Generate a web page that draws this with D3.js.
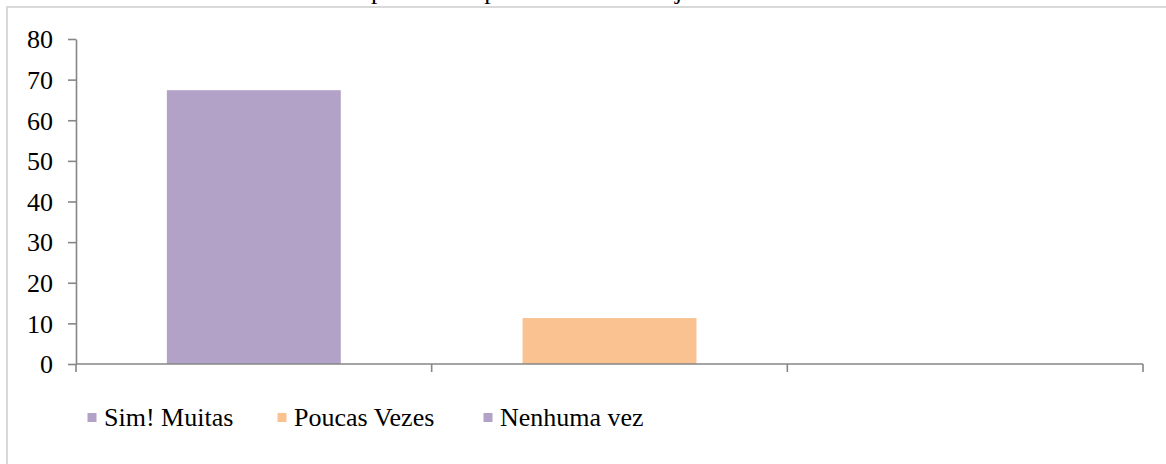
<!DOCTYPE html>
<html>
<head>
<meta charset="utf-8">
<script src="https://cdn.jsdelivr.net/npm/d3@7"></script>
<style>
  html, body { margin: 0; padding: 0; background: #fff; }
  svg { display: block; }
  svg text { font-family: "Liberation Serif", "Times New Roman", serif !important; fill: #000; }
</style>
</head>
<body>
<svg id="chart" width="1166" height="464"></svg>
<script>
// Survey answers and the share of respondents for each one
const categories = ["Sim! Muitas", "Poucas Vezes", "Nenhuma vez"];
const values = [67.4, 11.3, 0];
const colors = ["#b3a2c7", "#fac191", "#b3a2c7"];
const yTicks = [0, 10, 20, 30, 40, 50, 60, 70, 80];
const title = "Você praticou esportes na escola e já se machucou?";

const svg = d3.select("#chart");
const plot = { left: 76, right: 1143, top: 39, bottom: 364 };
const fontSize = 26;
const serif = "'Liberation Serif', 'Times New Roman', serif";

// Outer frame of the chart area
svg.append("rect")
  .attr("x", 7).attr("y", 7)
  .attr("width", 1300).attr("height", 600)
  .attr("fill", "#fff")
  .attr("stroke", "#d9d9d9")
  .attr("stroke-width", 2);

// Title sits above the frame
svg.append("text")
  .attr("x", 313).attr("y", -0.8)
  .style("font-size", fontSize + "px")
  .style("font-family", serif)
  .text(title);

const x = d3.scaleBand()
  .domain(categories)
  .range([plot.left, plot.right])
  .paddingInner(0.511)
  .paddingOuter(0.2555);

const y = d3.scaleLinear()
  .domain([0, 80])
  .range([plot.bottom, plot.top]);

// Bars
svg.append("g")
  .selectAll("rect")
  .data(categories.map((c, i) => ({ c, v: values[i], color: colors[i] })))
  .join("rect")
  .attr("x", d => x(d.c))
  .attr("width", x.bandwidth())
  .attr("y", d => y(d.v))
  .attr("height", d => y(0) - y(d.v))
  .attr("fill", d => d.color);

// Value axis
const yAxis = svg.append("g")
  .attr("transform", `translate(${plot.left},0)`)
  .call(d3.axisLeft(y).tickValues(yTicks).tickSize(8).tickSizeOuter(0).tickPadding(15));
yAxis.attr("font-family", null).attr("font-size", null);
yAxis.selectAll("path, line").attr("stroke", "#868686").attr("stroke-width", 1.6);
yAxis.selectAll("text")
  .style("font-size", fontSize + "px")
  .style("font-family", serif)
  .attr("dy", "0.34em");

// Category axis: baseline with tick marks between the categories
const step = x.step();
const boundaries = d3.range(categories.length + 1).map(i => plot.left + i * step);
const xAxis = svg.append("g");
xAxis.append("line")
  .attr("x1", plot.left).attr("x2", plot.right)
  .attr("y1", y(0)).attr("y2", y(0));
xAxis.selectAll("line.tick")
  .data(boundaries)
  .join("line")
  .attr("class", "tick")
  .attr("x1", d => d).attr("x2", d => d)
  .attr("y1", y(0)).attr("y2", y(0) + 8);
xAxis.selectAll("line").attr("stroke", "#868686").attr("stroke-width", 1.6);

// Legend
const legendX = [87.5, 277.5, 483.5];
const legend = svg.append("g")
  .selectAll("g")
  .data(categories.map((c, i) => ({ c, color: colors[i], lx: legendX[i] })))
  .join("g")
  .attr("transform", d => `translate(${d.lx},413)`);
legend.append("rect")
  .attr("width", 9).attr("height", 9)
  .attr("fill", d => d.color);
legend.append("text")
  .attr("x", 16.5).attr("y", 13)
  .style("font-size", fontSize + "px")
  .style("font-family", serif)
  .text(d => d.c);
</script>
</body>
</html>
